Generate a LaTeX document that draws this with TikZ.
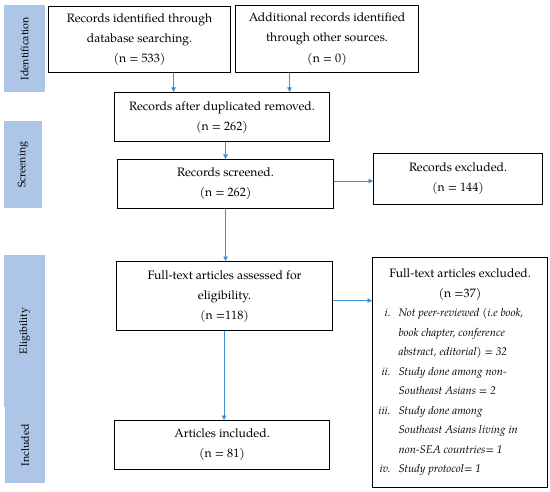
\documentclass[tikz,border=0pt]{standalone}
\usepackage{fontspec}
\setmainfont{TeX Gyre Pagella}
\usetikzlibrary{arrows.meta}
\definecolor{barblue}{HTML}{ADC6E8}
\definecolor{arrblue}{HTML}{3E90D6}
\newcommand{\itl}[1]{{\fontsize{11.2bp}{19.5bp}\selectfont\itshape #1}}
\newcommand{\ttl}[1]{\makebox[166bp][c]{#1}}
\newcommand{\itm}[2]{\makebox[166bp][l]{\makebox[13.5bp][r]{\itl{#1}}\hspace{8bp}\itl{#2}}}
\tikzset{
  box/.style={draw=black, line width=1.1bp, align=center, inner sep=0pt,
    anchor=north west, font=\fontsize{12.2bp}{20bp}\selectfont},
  bar/.style={fill=barblue, draw=none, inner sep=0pt, anchor=north west},
  barlabel/.style={rotate=90, font=\fontsize{10.7bp}{12bp}\selectfont, inner sep=0pt},
  arr/.style={draw=arrblue, line width=0.7bp, -{Triangle[length=4.5bp,width=4.5bp]}}
}
\begin{document}
\begin{tikzpicture}[x=1bp,y=-1bp]
\useasboundingbox (0,0) rectangle (550,492);
\fill[white] (0,0) rectangle (550,492);
% side bars
\node[bar, minimum width=41bp, minimum height=87bp] (b1) at (4,5) {};
\node[barlabel] (l1) at (b1.center) {Identification};
\node[bar, minimum width=38bp, minimum height=87bp] (b2) at (4,121) {};
\node[barlabel] (l2) at (b2.center) {Screening};
\node[bar, minimum width=41bp, minimum height=152bp] (b3) at (4,255) {};
\node[barlabel] (l3) at (b3.center) {Eligibility};
\node[bar, minimum width=40bp, minimum height=76bp] (b4) at (5,407) {};
\node[barlabel] (l4) at (b4.center) {Included};
% boxes
\node[box, minimum width=182bp, minimum height=66bp] (A) at (48,6)
  {Records identified through\\ database searching.\\ (n = 533)};
\node[box, minimum width=183bp, minimum height=67bp] (B) at (235,5)
  {Additional records identified\\ through other sources.\\ (n = 0)};
\node[box, minimum width=215bp, minimum height=49bp] (C) at (114,92)
  {Records after duplicated removed.\\ (n = 262)};
\node[box, minimum width=216bp, minimum height=49bp] (D) at (117,159)
  {Records screened.\\ (n = 262)};
\node[box, minimum width=169bp, minimum height=51bp] (E) at (373,153)
  {Records excluded.\\ (n = 144)};
\node[box, minimum width=216bp, minimum height=69bp] (F) at (116,261)
  {Full-text articles assessed for\\ eligibility.\\ (n =118)};
\node[box, align=left, minimum width=175bp, minimum height=230bp,
      font=\fontsize{12.2bp}{19.5bp}\selectfont] (G) at (372,257)
  {\ttl{Full-text articles excluded.}\\
   \ttl{(n =37)}\\
   \itm{i.}{Not peer-reviewed (i.e book,}\\
   \itm{}{book chapter, conference}\\
   \itm{}{abstract, editorial) = 32}\\
   \itm{ii.}{Study done among non-}\\
   \itm{}{Southeast Asians = 2}\\
   \itm{iii.}{Study done among}\\
   \itm{}{Southeast Asians living in}\\
   \itm{}{non-SEA countries= 1}\\
   \itm{iv.}{Study protocol= 1}};
\node[box, minimum width=215bp, minimum height=49bp] (H) at (114,420)
  {Articles included.\\ (n = 81)};
% arrows
\draw[arr] ([xshift=34bp]A.south) -- ([xshift=34bp]A.south |- C.north);
\draw[arr] ([xshift=-37.5bp]B.south) -- ([xshift=-37.5bp]B.south |- C.north);
\draw[arr] ([xshift=3.5bp]C.south) -- ([xshift=3.5bp]C.south |- D.north);
\draw[arr] ([yshift=3bp]D.east) -- ([yshift=3bp]D.east -| E.west);
\draw[arr] ([xshift=0bp]D.south) -- ([xshift=0bp]D.south |- F.north);
\draw[arr] ([yshift=-4.5bp]F.east) -- ([yshift=-4.5bp]F.east -| G.west);
\draw[arr] ([xshift=-0.5bp]F.south) -- ([xshift=-0.5bp]F.south |- H.north);
\end{tikzpicture}
\end{document}
